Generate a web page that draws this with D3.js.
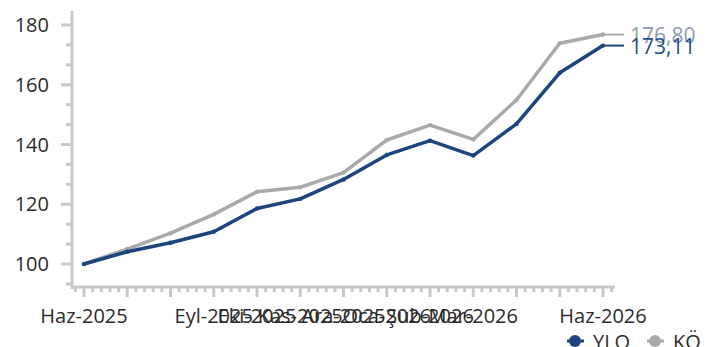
<!DOCTYPE html>
<html>
<head>
<meta charset="utf-8">
<script src="https://cdn.jsdelivr.net/npm/d3@7"></script>
<style>
  html, body { margin: 0; padding: 0; background: #fff; }
  #chart { width: 708px; height: 347px; overflow: hidden; }
  text { font-family: "Open Sans", "Noto Sans", sans-serif; }
</style>
</head>
<body>
<div id="chart"></div>
<script>
// Monthly index, Haz-2025 = 100
const months = ['Haz-2025', 'Tem-2025', 'Ağu-2025', 'Eyl-2025', 'Eki-2025', 'Kas-2025', 'Ara-2025',
                'Oca-2026', 'Şub-2026', 'Mar-2026', 'Nis-2026', 'May-2026', 'Haz-2026'];
const yloValues = [100, 104.1, 107.1, 110.8, 118.6, 121.8, 128.3, 136.5, 141.3, 136.3, 146.9, 164.0, 173.11];
const koValues  = [100, 105.0, 110.3, 116.6, 124.2, 125.7, 130.6, 141.5, 146.5, 141.7, 154.9, 173.9, 176.80];
// labels the renderer actually printed (others were dropped)
const shownLabels = ['Haz-2025', 'Eyl-2025', 'Eki-2025', 'Kas-2025', 'Ara-2025', 'Oca-2026', 'Şub-2026', 'Mar-2026', 'Haz-2026'];
const yTicks = [100, 120, 140, 160, 180];

const series = [
    { name: 'YLO', values: yloValues, color: '#1c4580', labelColor: '#1f4e8c' },
    { name: 'KÖ',  values: koValues,  color: '#a9a9a9', labelColor: '#8d9bb0' }
];

const W = 708, H = 347;
const svg = d3.select('#chart').append('svg')
    .attr('width', W)
    .attr('height', H);

const xScale = d3.scaleLinear().domain([0, months.length - 1]).range([84, 603]);
const yScale = d3.scaleLinear().domain([100, 180]).range([264, 25]);

const axisColor = '#c8c8c8';

// Y axis line + ticks
svg.append('line')
    .attr('x1', 72).attr('x2', 72)
    .attr('y1', 11).attr('y2', 289)
    .attr('stroke', axisColor).attr('stroke-width', 3);

const yMinor = d3.range(93.33, 185, 20 / 3).filter(v => !yTicks.some(t => Math.abs(t - v) < 0.5));
svg.selectAll('.y-minor').data(yMinor).enter().append('line')
    .attr('x1', 66).attr('x2', 72)
    .attr('y1', d => yScale(d)).attr('y2', d => yScale(d))
    .attr('stroke', axisColor).attr('stroke-width', 3);

svg.selectAll('.y-major').data(yTicks).enter().append('line')
    .attr('x1', 61).attr('x2', 72)
    .attr('y1', d => yScale(d)).attr('y2', d => yScale(d))
    .attr('stroke', axisColor).attr('stroke-width', 3);

svg.selectAll('.y-label').data(yTicks).enter().append('text')
    .attr('x', 49)
    .attr('y', d => yScale(d) + 7)
    .attr('text-anchor', 'end')
    .style('font-size', '20px')
    .style('fill', '#2b2b2b')
    .text(d => d);

// X axis line + ticks
svg.append('line')
    .attr('x1', 71).attr('x2', 615)
    .attr('y1', 287).attr('y2', 287)
    .attr('stroke', axisColor).attr('stroke-width', 3);

const xMinor = d3.range(-0.2, months.length - 1 + 0.25, 0.2).filter(v => Math.abs(v - Math.round(v)) > 0.05);
svg.selectAll('.x-minor').data(xMinor).enter().append('line')
    .attr('x1', d => xScale(d)).attr('x2', d => xScale(d))
    .attr('y1', 287).attr('y2', 292)
    .attr('stroke', axisColor).attr('stroke-width', 3);

svg.selectAll('.x-major').data(months).enter().append('line')
    .attr('x1', (d, i) => xScale(i)).attr('x2', (d, i) => xScale(i))
    .attr('y1', 287).attr('y2', 297)
    .attr('stroke', axisColor).attr('stroke-width', 3);

svg.selectAll('.x-label').data(shownLabels).enter().append('text')
    .attr('x', d => xScale(months.indexOf(d)))
    .attr('y', 323)
    .attr('text-anchor', 'middle')
    .style('font-size', '20px')
    .style('fill', '#2b2b2b')
    .text(d => d);

// Lines (gray drawn first, blue on top)
const line = d3.line()
    .x((d, i) => xScale(i))
    .y(d => yScale(d));

[...series].reverse().forEach(s => {
    svg.append('path')
        .datum(s.values)
        .attr('d', line)
        .attr('fill', 'none')
        .attr('stroke', s.color)
        .attr('stroke-width', 3.5)
        .attr('stroke-linejoin', 'round');

    svg.selectAll(null).data(s.values).enter().append('circle')
        .attr('cx', (d, i) => xScale(i))
        .attr('cy', d => yScale(d))
        .attr('r', 2.2)
        .attr('fill', s.color);

    // end connector + value label
    const last = s.values[s.values.length - 1];
    const lx = xScale(s.values.length - 1);
    svg.append('line')
        .attr('x1', lx).attr('x2', lx + 21)
        .attr('y1', yScale(last)).attr('y2', yScale(last))
        .attr('stroke', s.color).attr('stroke-width', 2);
    svg.append('text')
        .attr('x', lx + 27)
        .attr('y', yScale(last) + 8)
        .style('font-size', '21px')
        .style('fill', s.labelColor)
        .text(d3.format('.2f')(last).replace('.', ','));
});

// Legend (bottom right, partly cut off)
const legendX = [575, 655];
series.forEach((s, i) => {
    const g = svg.append('g').attr('transform', `translate(${legendX[i]}, 341)`);
    g.append('line')
        .attr('x1', -8).attr('x2', 9)
        .attr('y1', 0).attr('y2', 0)
        .attr('stroke', s.color).attr('stroke-width', 3);
    g.append('circle')
        .attr('r', 6)
        .attr('fill', s.color);
    g.append('text')
        .attr('x', 18)
        .attr('y', 8)
        .style('font-size', '20px')
        .style('fill', '#2b2b2b')
        .text(s.name);
});
</script>
</body>
</html>
